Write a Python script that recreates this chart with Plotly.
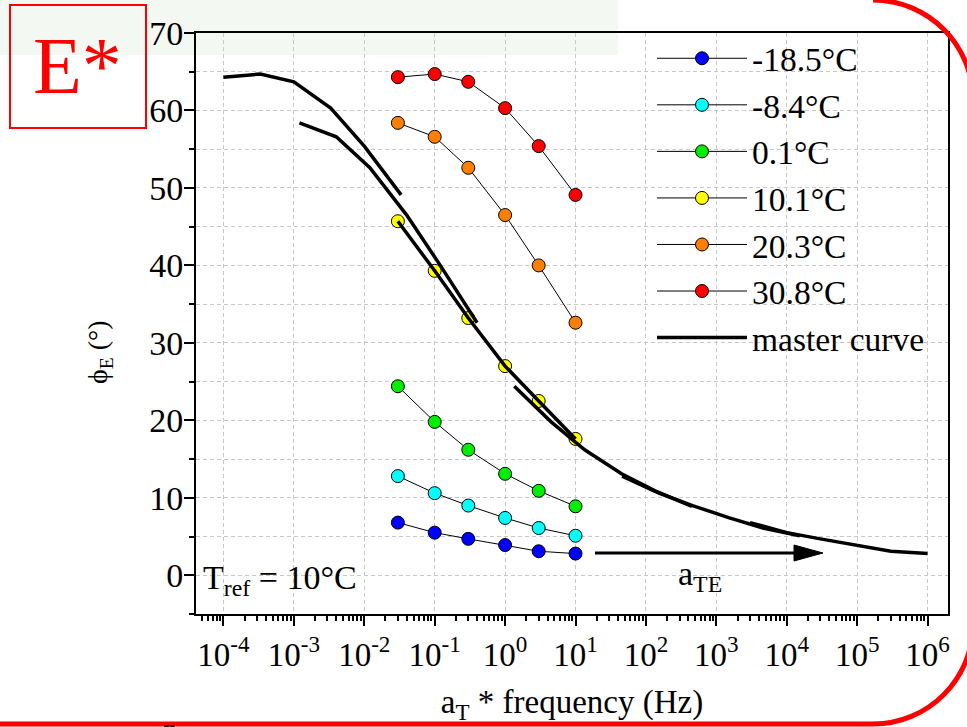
import plotly.graph_objects as go

# ---------------- data ----------------
freq = [0.03, 0.1, 0.3, 1, 3, 10]  # Hz
temp_labels = ["-18.5°C", "-8.4°C", "0.1°C", "10.1°C", "20.3°C", "30.8°C"]
temp_colors = ["#0000ff", "#00ffff", "#00ee00", "#ffff00", "#ff8000", "#ff0000"]
phi_m185 = [6.8, 5.5, 4.7, 3.9, 3.1, 2.8]
phi_m84 = [12.8, 10.6, 9.0, 7.4, 6.1, 5.1]
phi_01 = [24.4, 19.8, 16.2, 13.1, 10.9, 8.9]
phi_101 = [45.7, 39.3, 33.2, 27.0, 22.5, 17.6]
phi_203 = [58.4, 56.6, 52.6, 46.5, 40.0, 32.6]
phi_308 = [64.3, 64.7, 63.7, 60.3, 55.4, 49.1]
phi_all = [phi_m185, phi_m84, phi_01, phi_101, phi_203, phi_308]
# shift factors a_T (reduced frequency = a_T * frequency), T_ref = 10 °C
shift_aT = [1.0e5, 1530.0, 45.0, 1.0, 0.04, 1 / 300]

x_tickvals = [1e-4, 1e-3, 1e-2, 1e-1, 1e0, 1e1, 1e2, 1e3, 1e4, 1e5, 1e6]
x_ticktext = ["10<sup>-4</sup>", "10<sup>-3</sup>", "10<sup>-2</sup>", "10<sup>-1</sup>",
              "10<sup>0</sup>", "10<sup>1</sup>", "10<sup>2</sup>", "10<sup>3</sup>",
              "10<sup>4</sup>", "10<sup>5</sup>", "10<sup>6</sup>"]
y_tickvals = [0, 10, 20, 30, 40, 50, 60, 70]

FONT = "Liberation Serif"
W, H = 967, 727
L, R, T, B = 196, 948, 33, 614  # plot area in pixels


def px(xp):
    return (xp - L) / (R - L)


def py(yp):
    return (B - yp) / (B - T)


fig = go.Figure()

for lab, col, vals in zip(temp_labels, temp_colors, phi_all):
    fig.add_trace(go.Scatter(
        x=freq, y=vals, mode="lines+markers", name=lab,
        line=dict(color="black", width=1),
        marker=dict(size=13, color=col, line=dict(color="black", width=1)),
    ))

for i, (a, vals) in enumerate(zip(shift_aT, phi_all)):
    fig.add_trace(go.Scatter(
        x=[f * a for f in freq], y=vals, mode="lines", name="master curve",
        legendgroup="master", showlegend=(i == 0),
        line=dict(color="black", width=3.5),
    ))

minor_x = [m * 10 ** k for k in range(-5, 7) for m in range(2, 10)]

fig.update_xaxes(
    type="log", range=[-4.39, 6.29],
    tickmode="array", tickvals=x_tickvals, ticktext=x_ticktext,
    ticks="outside", ticklen=10, tickwidth=2, tickcolor="black",
    showline=True, linecolor="black", linewidth=2, mirror=True,
    showgrid=True, gridcolor="#c8c8c8", gridwidth=1, griddash="4px,3px",
    tickfont=dict(family=FONT, size=33, color="black"),
    minor=dict(tickmode="array", tickvals=minor_x, ticks="outside", ticklen=5,
               tickwidth=1.5, tickcolor="black", showgrid=False),
    zeroline=False,
    title=dict(text="a<sub>T</sub> * frequency (Hz)",
               font=dict(family=FONT, size=33, color="black"), standoff=18),
)
fig.update_yaxes(
    range=[-5, 70], tickmode="array", tickvals=y_tickvals,
    ticks="outside", ticklen=10, tickwidth=2, tickcolor="black",
    showline=True, linecolor="black", linewidth=2, mirror=True,
    showgrid=True, gridcolor="#c8c8c8", gridwidth=1, griddash="4px,3px",
    tickfont=dict(family=FONT, size=34, color="black"),
    minor=dict(dtick=5, tick0=0, ticks="outside", ticklen=5, tickwidth=1.5,
               tickcolor="black", showgrid=True, gridcolor="#c8c8c8",
               gridwidth=1, griddash="4px,3px"),
    zeroline=False, ticklabelstandoff=-6,
)

shapes = [
    # pale slide band at the top
    dict(type="rect", xref="paper", yref="paper", x0=px(0), x1=px(618), y0=py(55), y1=py(0),
         fillcolor="#f4f8f3", line=dict(width=0), layer="below"),
    # E* frame
    dict(type="rect", xref="paper", yref="paper", x0=px(10), x1=px(146), y0=py(128), y1=py(5),
         line=dict(color="#ff0000", width=2), fillcolor="rgba(0,0,0,0)", layer="above"),
    # arrow shaft
    dict(type="line", xref="paper", yref="paper", x0=px(595), x1=px(800), y0=py(553), y1=py(553),
         line=dict(color="black", width=3)),
    # arrow head
    dict(type="path", xref="paper", yref="paper",
         path=f"M{px(794)},{py(545)} L{px(823)},{py(553)} L{px(794)},{py(561)} Z",
         fillcolor="black", line=dict(color="black", width=1)),
]
k = 55.2
top_arc = (f"M{px(873)},{py(0)} C{px(873 + k)},{py(0)} {px(973)},{py(100 - k)} {px(973)},{py(100)}")
bot_arc = (f"M{px(973)},{py(624)} C{px(973)},{py(624 + k)} {px(873 + k)},{py(724)} {px(873)},{py(724)} "
           f"L{px(-10)},{py(724)}")
shapes.append(dict(type="path", xref="paper", yref="paper", path=top_arc,
                   line=dict(color="#ff0000", width=5)))
shapes.append(dict(type="path", xref="paper", yref="paper", path=bot_arc,
                   line=dict(color="#ff0000", width=5)))

annotations = [
    dict(text="E*", xref="paper", yref="paper", x=px(77), y=py(66), xanchor="center", yanchor="middle",
         showarrow=False, font=dict(family=FONT, size=80, color="#ff0000")),
    dict(text="ϕ<sub>E</sub> (°)", xref="paper", yref="paper", x=px(99), y=py(352),
         xanchor="center", yanchor="middle", textangle=-90, showarrow=False,
         font=dict(family=FONT, size=28, color="black")),
    dict(text="T<sub>ref</sub> = 10°C", xref="paper", yref="paper", x=px(201), y=py(580),
         xanchor="left", yanchor="middle", showarrow=False,
         font=dict(family=FONT, size=34, color="black")),
    dict(text="a<sub>TE</sub>", xref="paper", yref="paper", x=px(676), y=py(576),
         xanchor="left", yanchor="middle", showarrow=False,
         font=dict(family=FONT, size=34, color="black")),
    dict(text="2", xref="paper", yref="paper", x=px(160), y=py(716),
         xanchor="left", yanchor="top", showarrow=False,
         font=dict(family=FONT, size=33, color="black")),
]

fig.update_layout(
    width=W, height=H,
    margin=dict(l=L, r=W - R, t=T, b=H - B, pad=0),
    paper_bgcolor="white", plot_bgcolor="rgba(0,0,0,0)",
    font=dict(family=FONT, color="black"),
    showlegend=True,
    legend=dict(x=px(652), y=py(30), xanchor="left", yanchor="top",
                bgcolor="rgba(0,0,0,0)", borderwidth=0, itemwidth=90,
                font=dict(family=FONT, size=33.5, color="black"),
                tracegroupgap=0),
    shapes=shapes, annotations=annotations,
)

fig.write_html("out.html")
